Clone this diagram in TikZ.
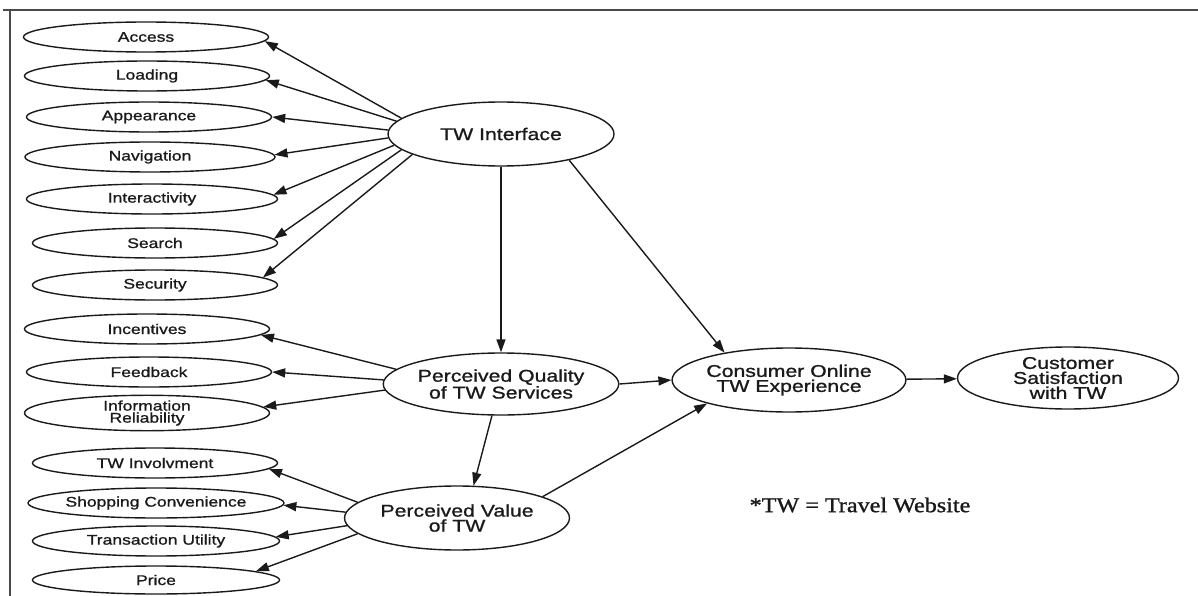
\documentclass[tikz,border=0pt]{standalone}
\usepackage{fontspec}
\setmainfont{Liberation Sans}
\newfontfamily\lblfont[FakeStretch=1.25,FakeBold=1.1]{Liberation Sans}
\newfontfamily\notefont[FakeStretch=1.15,FakeBold=1.2]{Liberation Serif}
\usetikzlibrary{shapes.geometric,arrows.meta}
\definecolor{ink}{HTML}{1A1A1A}
\definecolor{rulegray}{HTML}{4A4A4A}
\tikzset{
  item/.style={ellipse, draw=ink, line width=1.4pt, minimum width=245pt,
    minimum height=30pt, inner sep=0pt, align=center, text=ink,
    font=\lblfont\fontsize{14pt}{12pt}\selectfont},
  construct/.style={ellipse, draw=ink, line width=1.4pt, minimum width=226pt,
    minimum height=64pt, inner sep=0pt, align=center, text=ink,
    font=\lblfont\fontsize{17pt}{15pt}\selectfont},
  link/.style={draw=ink, line width=1.4pt, -{Triangle[length=13pt,width=9pt]}},
}
\begin{document}
\begin{tikzpicture}[x=1pt,y=-1pt]
\useasboundingbox (0,0) rectangle (1198,596);
% page frame
\draw[rulegray, line width=2.5pt] (3,10) -- (1198,10);
\draw[rulegray, line width=2.5pt] (10,10) -- (10,596);

% interface items
\node[item] (access) at (146,37) {Access};
\node[item] (loading) at (147,76) {Loading};
\node[item] (appear) at (149,117) {Appearance};
\node[item, minimum width=250pt] (navig) at (150,157) {Navigation};
\node[item, minimum width=251pt] (interact) at (152,199) {Interactivity};
\node[item] (search) at (155,243) {Search};
\node[item] (secur) at (155,285) {Security};
% service items
\node[item] (incent) at (147,329) {Incentives};
\node[item] (feedb) at (149,372) {Feedback};
\node[item] (inforel) at (147,413) {Information\\Reliability};
% value items
\node[item] (involv) at (155,463) {TW Involvment};
\node[item, minimum width=247pt] (shop) at (156,503) {Shopping Convenience};
\node[item, minimum width=247pt] (trans) at (156,541) {Transaction Utility};
\node[item, minimum width=247pt, minimum height=28pt] (price) at (156,580) {Price};

% constructs
\node[construct] (twi) at (501,134) {TW Interface};
\node[construct, minimum height=62pt] (pq) at (501,384) {Perceived Quality\\of TW Services};
\node[construct, minimum width=225pt] (pv) at (457,518) {Perceived Value\\of TW};
\node[construct, minimum width=221pt] (coe) at (789,380) {Consumer Online\\TW Experience};
\node[construct, minimum width=221pt, minimum height=62pt] (cs) at (1068,378) {Customer\\Satisfaction\\with TW};

\node[font=\notefont\fontsize{21pt}{21pt}\selectfont, text=ink] (note) at (860,505) {*TW = Travel Website};

% interface links
\draw[link] (twi.171) -- (access.-2);
\draw[link] (twi.173) -- (loading.-2);
\draw[link] (twi.178) -- (appear.0);
\draw[link] (twi.182) -- (navig.1);
\draw[link] (twi.186) -- (interact.2.5);
\draw[link] (twi.189) -- (search.2);
\draw[link] (twi.193) -- (secur.4);
% service links
\draw[link] (pq.172.6) -- (incent.-3);
\draw[link] (pq.178) -- (feedb.0);
\draw[link] (pq.183) -- (inforel.3);
% value links
\draw[link] (pv.171.8) -- (involv.-3);
\draw[link] (pv.177.4) -- (shop.-1);
\draw[link] (pv.184.6) -- (trans.2);
\draw[link] (pv.189.5) -- (price.5);
% structural paths
\draw[link] (twi) -- (pq);
\draw[link] (twi.-21) -- (coe.157);
\draw[link] (pq.east) -- (coe.west);
\draw[link] (pq.-106) -- (pv.63);
\draw[link] (pv.14) -- (coe.196);
\draw[link] (coe) -- (cs);
\end{tikzpicture}
\end{document}
